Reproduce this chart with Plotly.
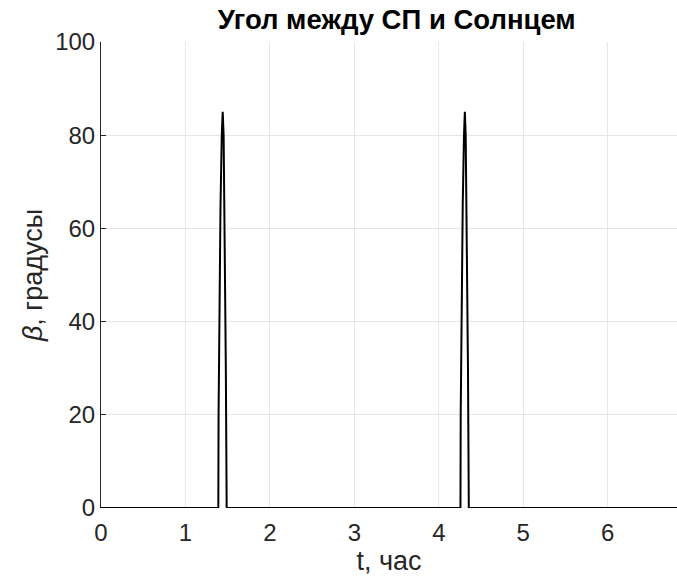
import plotly.graph_objects as go

# time, hours
t = [0.0, 1.389, 1.392, 1.400, 1.415, 1.430, 1.441, 1.452, 1.465, 1.478, 1.488,
     4.256, 4.259, 4.268, 4.283, 4.298, 4.308, 4.318, 4.332, 4.345, 4.355, 6.82]
# angle between solar panel and Sun, degrees
beta = [0, 0, 20, 45, 65, 80, 85, 80, 60, 30, 0,
        0, 20, 45, 65, 80, 85, 80, 60, 30, 0, 0]

x_ticks = [0, 1, 2, 3, 4, 5, 6]
y_ticks = [0, 20, 40, 60, 80, 100]

fig = go.Figure()
fig.add_trace(go.Scatter(x=t, y=beta, mode="lines",
                         line=dict(color="black", width=2), showlegend=False))

font = "Liberation Sans, Arial, sans-serif"
fig.update_layout(
    width=677, height=578,
    margin=dict(l=101, r=0, t=42, b=70),
    plot_bgcolor="white", paper_bgcolor="white",
    title=dict(text="<b>Угол между СП и Солнцем</b>", x=0.586, xanchor="center",
               y=0.983, yanchor="top",
               font=dict(family=font, size=27.5, color="black")),
    font=dict(family=font, color="#262626"),
)
fig.update_xaxes(range=[0, 6.82], tickvals=x_ticks, showgrid=True,
                 gridcolor="#e6e6e6", gridwidth=1, zeroline=False,
                 showline=False, ticks="", ticklabelstandoff=8,
                 tickfont=dict(size=24, color="#262626"),
                 title=dict(text="t, час", font=dict(size=27, color="#262626"), standoff=2))
fig.update_yaxes(range=[0, 100], tickvals=y_ticks, showgrid=True,
                 gridcolor="#e6e6e6", gridwidth=1, zeroline=False,
                 showline=True, linecolor="#262626", linewidth=1,
                 ticks="inside", ticklen=5, tickcolor="#262626",
                 tickfont=dict(size=24, color="#262626"),
                 title=dict(text="<i>β</i>, градусы", font=dict(size=27, color="#262626"), standoff=4))

fig.write_html("out.html")
